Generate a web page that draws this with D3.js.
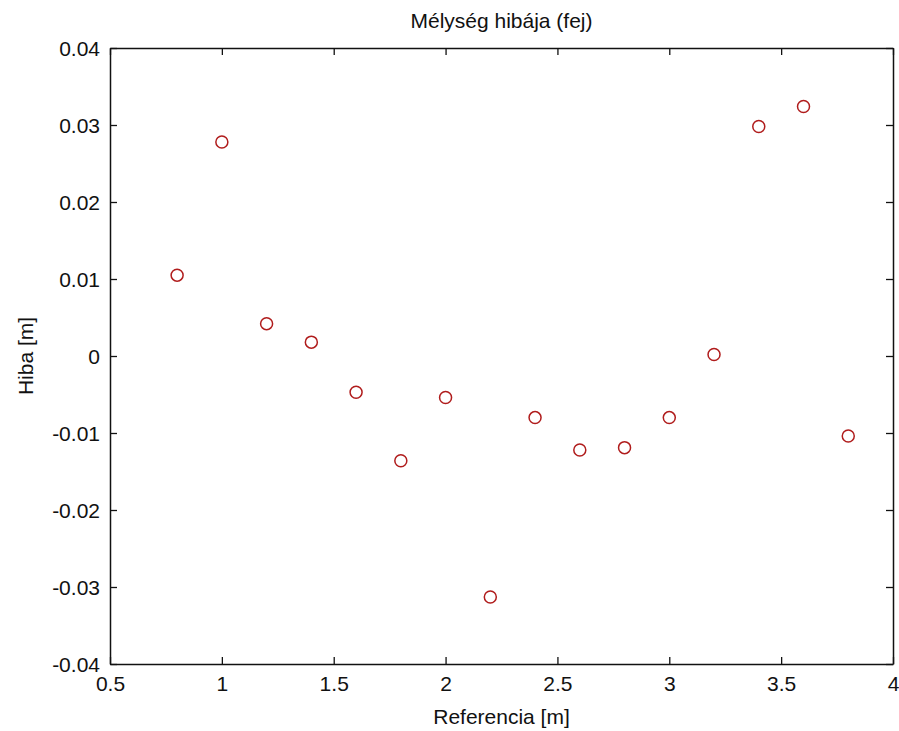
<!DOCTYPE html>
<html>
<head>
<meta charset="utf-8">
<script src="https://cdn.jsdelivr.net/npm/d3@7"></script>
<style>
  body { margin: 0; background: #fff; }
  text { font-family: "Liberation Sans", Arial, sans-serif; fill: #111; }
</style>
</head>
<body>
<div id="chart"></div>
<script>
// data
const referencia = [0.8, 1.0, 1.2, 1.4, 1.6, 1.8, 2.0, 2.2, 2.4, 2.6, 2.8, 3.0, 3.2, 3.4, 3.6, 3.8];
const hiba = [0.0105, 0.0278, 0.0042, 0.0018, -0.0047, -0.0136, -0.0054, -0.0313,
              -0.0080, -0.0122, -0.0119, -0.0080, 0.0002, 0.0298, 0.0324, -0.0104];
const xTicks = [0.5, 1, 1.5, 2, 2.5, 3, 3.5, 4];
const yTicks = [-0.04, -0.03, -0.02, -0.01, 0, 0.01, 0.02, 0.03, 0.04];

const W = 899, H = 731;
const margin = {top: 48, right: 6, bottom: 67, left: 110};
const width = W - margin.left - margin.right;
const height = H - margin.top - margin.bottom;

const svg = d3.select('#chart').append('svg')
  .attr('width', W)
  .attr('height', H);

const g = svg.append('g')
  .attr('transform', `translate(${margin.left},${margin.top})`);

const x = d3.scaleLinear().domain([0.5, 4]).range([0, width]);
const y = d3.scaleLinear().domain([-0.04, 0.04]).range([height, 0]);

// matlab style: ticks pointing inward, on all four sides
const fmt = d => d === 0 ? '0' : String(d);
const tickLen = 7;

const bottomAxis = g.append('g')
  .attr('transform', `translate(0,${height})`)
  .call(d3.axisBottom(x).tickValues(xTicks).tickFormat(fmt).tickSizeInner(-tickLen).tickSizeOuter(0).tickPadding(12));
const leftAxis = g.append('g')
  .call(d3.axisLeft(y).tickValues(yTicks).tickFormat(fmt).tickSizeInner(-tickLen).tickSizeOuter(0).tickPadding(10));
const topAxis = g.append('g')
  .call(d3.axisTop(x).tickValues(xTicks).tickFormat('').tickSizeInner(-tickLen).tickSizeOuter(0));
const rightAxis = g.append('g')
  .attr('transform', `translate(${width},0)`)
  .call(d3.axisRight(y).tickValues(yTicks).tickFormat('').tickSizeInner(-tickLen).tickSizeOuter(0));

[bottomAxis, leftAxis, topAxis, rightAxis].forEach(a => {
  a.select('.domain').attr('stroke', '#111').attr('stroke-width', 1.5);
  a.selectAll('.tick line').attr('stroke', '#111').attr('stroke-width', 1.3);
  a.selectAll('.tick text')
    .style('font-family', '"Liberation Sans", Arial, sans-serif')
    .style('font-size', '21px')
    .attr('fill', '#111');
});
leftAxis.selectAll('.tick text').attr('dy', '0.36em');

// points
g.selectAll('circle.dot')
  .data(referencia.map((r, i) => ({x: r, y: hiba[i]})))
  .enter().append('circle')
  .attr('class', 'dot')
  .attr('cx', d => x(d.x))
  .attr('cy', d => y(d.y))
  .attr('r', 6)
  .attr('fill', 'none')
  .attr('stroke', '#b01c1c')
  .attr('stroke-width', 1.5);

// labels
svg.append('text')
  .attr('x', margin.left + width / 2)
  .attr('y', 28)
  .attr('text-anchor', 'middle')
  .style('font-size', '21px')
  .text('Mélység hibája (fej)');

svg.append('text')
  .attr('x', margin.left + width / 2)
  .attr('y', 724)
  .attr('text-anchor', 'middle')
  .style('font-size', '21px')
  .text('Referencia [m]');

svg.append('text')
  .attr('transform', `translate(33,${margin.top + height / 2}) rotate(-90)`)
  .attr('text-anchor', 'middle')
  .style('font-size', '21px')
  .text('Hiba [m]');
</script>
</body>
</html>
